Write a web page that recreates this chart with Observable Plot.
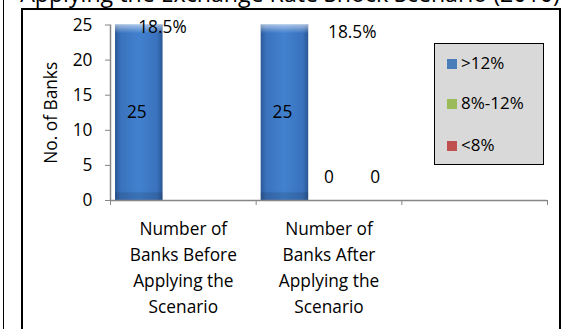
<!DOCTYPE html>
<html><head><meta charset="utf-8">
<script src="https://cdn.jsdelivr.net/npm/d3@7"></script>
<script src="https://cdn.jsdelivr.net/npm/@observablehq/plot@0.6"></script>
<style>
body{margin:0;background:#fff;}
#wrap{position:relative;width:574px;height:329px;overflow:hidden;font-family:"Open Sans",Lato,sans-serif;color:#000;}
#outer{position:absolute;left:3px;top:0;width:0;height:329px;border-left:1.6px solid #000;}
#box{position:absolute;left:21px;top:7.5px;width:536px;height:319px;border:2px solid #000;border-bottom:2px solid #bbb;}
#title{position:absolute;left:0;top:-16px;width:574px;text-align:center;line-height:19px;white-space:nowrap;padding-left:6px;box-sizing:border-box;}
#title span{display:inline-block;}
#chart{position:absolute;left:0;top:0;}
#legend{position:absolute;left:434px;top:43px;width:110px;height:122px;box-sizing:border-box;border:1.6px solid #000;background:#d9d9d9;}
.item{position:absolute;left:12px;height:18px;line-height:18px;font-size:17px;white-space:nowrap;}
.sw{display:inline-block;width:10px;height:10px;margin-right:4px;vertical-align:0px;}
</style></head><body>
<div id="wrap">
  <div id="outer"></div>
  <div id="box"></div>
  <div id="title"><span id="tspan" style="font-size:19px">Applying the Exchange Rate Shock Scenario (2010)</span></div>
  <div id="chart"></div>
  <div id="legend"></div>
</div>
<script>
// ---- data ----
const categories = ["Number of\nBanks Before\nApplying the\nScenario", "Number of\nBanks After\nApplying the\nScenario", ""];
const seriesNames = [">12%", "8%-12%", "<8%"];
const seriesColors = ["#4a7ebb", "#9bbb59", "#c0504d"];
const valuesBefore = [25, 0, 0];
const valuesAfter = [25, 0, 0];
const yTicks = [0, 5, 10, 15, 20, 25];
const yLabel = "No. of Banks";
// free-floating data labels: category index, slot position (in series widths), y value, text
const noteCat = [0, 1, 1, 1];
const noteSlot = [1.07, 1.98, 1.5, 2.45];
const noteY = [24.7, 24, 3.3, 3.3];
const noteText = ["18.5%", "18.5%", "0", "0"];

// ---- build table ----
const rows = [];
[valuesBefore, valuesAfter].forEach((vals, ci) =>
  vals.forEach((v, si) => rows.push({ci, si, v, s: seriesNames[si]})));
const bars = rows.filter(d => d.v > 0);
const notes = noteText.map((t, i) => ({ci: noteCat[i], slot: noteSlot[i], y: noteY[i], t}));

const FS = 17.3;
const FONT = "'Open Sans', Lato, sans-serif";
const chart = Plot.plot({
  width: 574, height: 329,
  marginLeft: 110, marginRight: 27, marginTop: 24.5, marginBottom: 129,
  x: {domain: [0, 3]},
  y: {domain: [0, 25]},
  style: {fontFamily: FONT, fontSize: FS + "px", background: "transparent", overflow: "visible"},
  marks: [
    Plot.rectY(bars, {x1: d => d.ci + d.si / 3, x2: d => d.ci + (d.si + 1) / 3, y: "v", fill: "url(#barGrad)", insetLeft: 5, insetRight: -4}),
    Plot.rectY(bars, {x1: d => d.ci + d.si / 3, x2: d => d.ci + (d.si + 1) / 3, y: "v", fill: "url(#barShade)", insetLeft: 5, insetRight: -4}),
    Plot.ruleX([0], {stroke: "#868686", strokeWidth: 1.5}),
    Plot.ruleY([0], {stroke: "#868686", strokeWidth: 1.5}),
    Plot.axisY({ticks: yTicks, tickSize: 5, tickPadding: 13, stroke: "#868686", fill: "#000", label: null, fontSize: FS}),
    Plot.axisX({ticks: [0, 1, 2, 3], tickSize: 5, tickFormat: () => "", stroke: "#868686", label: null}),
    Plot.text(categories, {x: (d, i) => i + 0.5, y: 0, text: d => d, lineAnchor: "top", dy: 16, lineHeight: 1.5, fontSize: FS, fill: "#000"}),
    Plot.text(bars, {x: d => d.ci + (d.si + 0.5) / 3, y: d => d.v / 2, text: d => String(d.v), fontSize: FS, fill: "#000", dx: 2}),
    Plot.text(notes, {x: d => d.ci + d.slot / 3, y: "y", text: "t", fontSize: FS, fill: "#000"}),
    Plot.text([yLabel], {frameAnchor: "left", textAnchor: "middle", rotate: -90, dx: -59, fontSize: FS, fill: "#000"})
  ]
});

const defs = d3.select(chart).insert("defs", ":first-child");
const g = defs.append("linearGradient").attr("id", "barGrad").attr("x1", "0").attr("x2", "1").attr("y1", "0").attr("y2", "0");
[["0%", "#2c5a98"], ["12%", "#3a72bd"], ["50%", "#4281cf"], ["88%", "#3a72bd"], ["100%", "#2b5895"]]
  .forEach(([o, c]) => g.append("stop").attr("offset", o).attr("stop-color", c));
const s = defs.append("linearGradient").attr("id", "barShade").attr("x1", "0").attr("x2", "0").attr("y1", "0").attr("y2", "1");
[["0%", "#ffffff", 0.55], ["3.5%", "#ffffff", 0.15], ["5%", "#ffffff", 0], ["95%", "#000000", 0], ["96%", "#000000", 0.12], ["100%", "#000000", 0.12]]
  .forEach(([o, c, a]) => s.append("stop").attr("offset", o).attr("stop-color", c).attr("stop-opacity", a));

document.getElementById("chart").appendChild(chart);

// legend
const legend = document.getElementById("legend");
const legendTops = [10, 50, 92];
seriesNames.forEach((name, i) => {
  const it = document.createElement("div");
  it.className = "item";
  it.style.top = legendTops[i] + "px";
  it.innerHTML = `<span class="sw" style="background:${seriesColors[i]}"></span>${name}`;
  legend.appendChild(it);
});

// fit title width
const ts = document.getElementById("tspan");
const w = ts.getBoundingClientRect().width;
ts.style.fontSize = (19 * 540 / w) + "px";
</script>
</body></html>
